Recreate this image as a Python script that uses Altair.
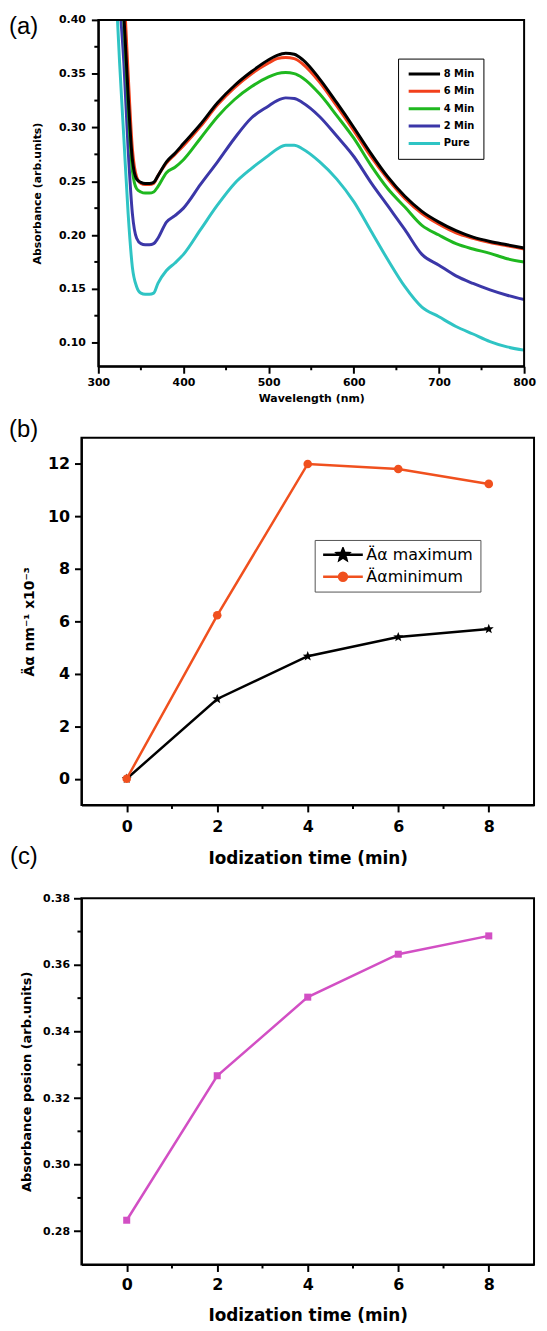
import math
import altair as alt
import pandas as pd

# ---------------- Panel (a) data ----------------
wavelength = [320, 325, 330, 335, 340, 345, 350, 355, 360, 365, 370, 380, 390, 400, 420, 440, 460, 480,
              500, 510, 520, 530, 540, 560, 580, 600, 620, 640, 660, 680, 700, 720, 740, 760, 780, 800]
abs_8min = [0.56, 0.47, 0.405, 0.33, 0.27, 0.252, 0.249, 0.248, 0.248, 0.249, 0.255, 0.268, 0.276, 0.285,
            0.303, 0.323, 0.339, 0.352, 0.363, 0.367, 0.369, 0.368, 0.363, 0.345, 0.323, 0.300, 0.276,
            0.254, 0.236, 0.222, 0.212, 0.204, 0.198, 0.194, 0.191, 0.188]
abs_6min = [0.60, 0.50, 0.43, 0.35, 0.28, 0.254, 0.248, 0.247, 0.247, 0.248, 0.255, 0.267, 0.275, 0.283,
            0.301, 0.321, 0.337, 0.350, 0.360, 0.364, 0.365, 0.364, 0.359, 0.342, 0.320, 0.297, 0.273,
            0.252, 0.234, 0.220, 0.210, 0.202, 0.197, 0.193, 0.190, 0.187]
abs_4min = [0.56, 0.47, 0.40, 0.32, 0.26, 0.243, 0.240, 0.239, 0.239, 0.240, 0.245, 0.258, 0.263, 0.270,
            0.290, 0.310, 0.326, 0.338, 0.347, 0.350, 0.351, 0.350, 0.346, 0.331, 0.311, 0.290, 0.265,
            0.243, 0.226, 0.209, 0.200, 0.192, 0.187, 0.183, 0.178, 0.175]
abs_2min = [0.50, 0.42, 0.36, 0.28, 0.22, 0.197, 0.192, 0.191, 0.191, 0.192, 0.197, 0.212, 0.218, 0.225,
            0.247, 0.268, 0.290, 0.309, 0.320, 0.325, 0.3275, 0.327, 0.323, 0.310, 0.292, 0.273, 0.249,
            0.227, 0.205, 0.182, 0.172, 0.162, 0.155, 0.149, 0.144, 0.140]
abs_pure = [0.44, 0.36, 0.29, 0.22, 0.17, 0.152, 0.146, 0.145, 0.145, 0.146, 0.155, 0.167, 0.174, 0.182,
            0.205, 0.228, 0.248, 0.262, 0.274, 0.280, 0.2835, 0.2835, 0.280, 0.268, 0.252, 0.231, 0.204,
            0.177, 0.152, 0.133, 0.124, 0.115, 0.108, 0.101, 0.096, 0.093]
a_names = ["8 Min", "6 Min", "4 Min", "2 Min", "Pure"]
a_colors = ["#000000", "#f2401c", "#1fb81f", "#3b37a8", "#2fc4c4"]
a_x_ticks = [300, 400, 500, 600, 700, 800]
a_x_minor = [350, 450, 550, 650, 750]
a_y_ticks = [0.10, 0.15, 0.20, 0.25, 0.30, 0.35, 0.40]
a_y_minor = [0.125, 0.175, 0.225, 0.275, 0.325, 0.375]

# ---------------- Panel (b) data ----------------
time_min = [0, 2, 4, 6, 8]
da_max = [0.0, 3.04, 4.67, 5.40, 5.71]
da_min = [0.0, 6.23, 12.0, 11.81, 11.24]
b_names = ["Äα maximum", "Äαminimum"]
b_colors = ["#000000", "#f0501e"]
bc_x_ticks = [0, 2, 4, 6, 8]
bc_x_minor = [1, 3, 5, 7]
b_y_ticks = [0, 2, 4, 6, 8, 10, 12]

# ---------------- Panel (c) data ----------------
abs_position = [0.2833, 0.3267, 0.3503, 0.3632, 0.3687]
c_y_ticks = [0.28, 0.30, 0.32, 0.34, 0.36, 0.38]
c_y_minor = [0.29, 0.31, 0.33, 0.35, 0.37]

FONT = "DejaVu Sans"

df_a = pd.concat([
    pd.DataFrame({"wl": wavelength, "absorb": vals, "series": name})
    for name, vals in reversed(list(zip(a_names, [abs_8min, abs_6min, abs_4min, abs_2min, abs_pure])))
], ignore_index=True)
df_b = pd.concat([
    pd.DataFrame({"t": time_min, "v": da_max, "series": b_names[0]}),
    pd.DataFrame({"t": time_min, "v": da_min, "series": b_names[1]}),
], ignore_index=True)
df_c = pd.DataFrame({"t": time_min, "v": abs_position})
one = pd.DataFrame({"k": [0]})


def star(outer, inner):
    pts = []
    for i in range(10):
        r = outer if i % 2 == 0 else inner
        ang = math.radians(-90 + 36 * i)
        pts.append(f"{r * math.cos(ang):.3f},{r * math.sin(ang):.3f}")
    return "M" + "L".join(pts) + "Z"


STAR = star(1.0, 0.42)
STAR_LINE = "M-1,0L1,0" + star(0.3, 0.13)
CIRCLE_LINE = "M-1,0L1,0M0.2,0A0.2,0.2 0 1,1 -0.2,0A0.2,0.2 0 1,1 0.2,0Z"


def minor_x(values, field, enc, h):
    return alt.Chart(pd.DataFrame({field: values})).mark_rule(strokeWidth=2, color="black").encode(
        x=enc, y=alt.value(h), y2=alt.value(h + 4))


def minor_y(values, field, enc, x0):
    return alt.Chart(pd.DataFrame({field: values})).mark_rule(strokeWidth=2, color="black").encode(
        y=enc, x=alt.value(x0 - 4), x2=alt.value(x0))


def panel_label(txt, x, y):
    return alt.Chart(one).mark_text(text=txt, align="left", baseline="top", font="Liberation Sans",
                                    fontSize=24, color="black").encode(x=alt.value(x), y=alt.value(y))


# ----- panel (a) -----
A_W, A_H = 446, 349
x_a = alt.X("wl:Q", scale=alt.Scale(domain=[300, 800], range=[17, 446], nice=False),
            axis=alt.Axis(values=a_x_ticks, title="Wavelength (nm)", tickSize=7,
                          labelFontSize=11, titleFontSize=11, labelPadding=3, titlePadding=5))
y_a = alt.Y("absorb:Q", scale=alt.Scale(domain=[0.078, 0.40], nice=False, zero=False),
            axis=alt.Axis(values=a_y_ticks, title="Absorbance (arb.units)", format=".2f", offset=-17,
                          tickSize=7, labelFontSize=11, titleFontSize=11, labelPadding=6, titlePadding=16))

lines_a = alt.Chart(df_a).mark_line(strokeWidth=3, clip=True, interpolate="monotone").encode(
    x=x_a, y=y_a,
    color=alt.Color("series:N", scale=alt.Scale(domain=a_names, range=a_colors),
                    legend=alt.Legend(title=None, orient="none", legendX=319, legendY=39,
                                      symbolType="stroke", symbolSize=1000, symbolStrokeWidth=3,
                                      clipHeight=13, rowPadding=4.5, labelFont=FONT, labelFontWeight="bold",
                                      labelFontSize=10, labelColor="black", strokeColor="black",
                                      padding=9, labelOffset=2)),
)
frame_a = alt.Chart(one).mark_rect(fill="transparent", stroke="black", strokeWidth=2).encode(
    x=alt.value(17), x2=alt.value(446), y=alt.value(0), y2=alt.value(A_H))
panel_a = alt.layer(
    lines_a, frame_a,
    minor_x(a_x_minor, "wl", x_a, A_H), minor_y(a_y_minor, "absorb", y_a, 17),
    panel_label("(a)", -73, -5),
).properties(width=A_W, height=A_H, view=alt.ViewBackground(stroke="transparent"))

# ----- panel (b) -----
B_W, B_H = 456, 370
x_b = alt.X("t:Q", scale=alt.Scale(domain=[-1, 9], nice=False),
            axis=alt.Axis(values=bc_x_ticks, title="Iodization time (min)", tickSize=7,
                          labelFontSize=16, titleFontSize=17, labelPadding=7, titlePadding=16))
y_b = alt.Y("v:Q", scale=alt.Scale(domain=[-1, 13], nice=False),
            axis=alt.Axis(values=b_y_ticks, title="Äα  nm⁻¹ x10⁻³", tickSize=7,
                          labelFontSize=16, titleFontSize=14, labelPadding=5, titlePadding=11))

line_max = alt.Chart(df_b).transform_filter(alt.datum.series == b_names[0]).mark_line(
    strokeWidth=2.5, color=b_colors[0]).encode(x=x_b, y=y_b)
line_min = alt.Chart(df_b).transform_filter(alt.datum.series == b_names[1]).mark_line(
    strokeWidth=2.5, color=b_colors[1]).encode(x=x_b, y=y_b)
stars_b = alt.Chart(df_b).transform_filter(alt.datum.series == b_names[0]).mark_point(
    shape=STAR, filled=True, size=110, color=b_colors[0], opacity=1).encode(x=x_b, y=y_b)
dots_b = alt.Chart(df_b).transform_filter(alt.datum.series == b_names[1]).mark_point(
    shape="circle", filled=True, size=75, color=b_colors[1], opacity=1).encode(x=x_b, y=y_b)
leg_b = alt.Legend(title=None, orient="none", legendX=235, legendY=103, symbolSize=1600,
                   symbolStrokeWidth=2.5, clipHeight=16, rowPadding=6, labelFont=FONT,
                   labelFontSize=16, labelFontWeight="normal", labelColor="black",
                   strokeColor="#555555", padding=7, labelOffset=2, symbolOpacity=1)
legend_b = alt.Chart(df_b).mark_point(filled=True, opacity=0).encode(
    x=x_b, y=y_b,
    fill=alt.Fill("series:N", scale=alt.Scale(domain=b_names, range=b_colors), legend=leg_b),
    stroke=alt.Stroke("series:N", scale=alt.Scale(domain=b_names, range=b_colors), legend=leg_b),
    shape=alt.Shape("series:N", scale=alt.Scale(domain=b_names, range=[STAR_LINE, CIRCLE_LINE]), legend=leg_b),
)
spacer_b = alt.Chart(one).mark_rule(strokeOpacity=0).encode(
    x=alt.value(0), x2=alt.value(1), y=alt.value(443))
panel_b = alt.layer(
    line_max, line_min, stars_b, dots_b, legend_b, minor_x(bc_x_minor, "t", x_b, B_H),
    panel_label("(b)", -73, -20), panel_label("(c)", -72, 410), spacer_b,
).properties(width=B_W, height=B_H)

# ----- panel (c) -----
C_W, C_H = 456, 369
x_c = alt.X("t:Q", scale=alt.Scale(domain=[-1, 9], nice=False),
            axis=alt.Axis(values=bc_x_ticks, title="Iodization time (min)", tickSize=7,
                          labelFontSize=16, titleFontSize=17, labelPadding=5, titlePadding=15))
y_c = alt.Y("v:Q", scale=alt.Scale(domain=[0.27, 0.38], nice=False, zero=False),
            axis=alt.Axis(values=c_y_ticks, title="Absorbance posion (arb.units)", format=".2f",
                          tickSize=8, labelFontSize=11, titleFontSize=13, labelPadding=4, titlePadding=9))
line_c = alt.Chart(df_c).mark_line(strokeWidth=2.5, color="#d24fc4").encode(x=x_c, y=y_c)
pts_c = alt.Chart(df_c).mark_point(shape="square", filled=True, size=50, color="#d24fc4", opacity=1).encode(
    x=x_c, y=y_c)
panel_c = alt.layer(
    line_c, pts_c, minor_x(bc_x_minor, "t", x_c, C_H), minor_y(c_y_minor, "v", y_c, 0),
).properties(width=C_W, height=C_H)

chart = alt.vconcat(panel_a, panel_b, panel_c, spacing=13).resolve_scale(
    color="independent", fill="independent", stroke="independent", shape="independent"
).resolve_legend(
    color="independent", fill="independent", stroke="independent", shape="independent"
).properties(
    padding={"left": 0, "top": 0, "right": 2, "bottom": 0}
).configure_view(stroke="black", strokeWidth=2).configure_axis(
    grid=False, domainColor="black", domainWidth=2, tickColor="black", tickWidth=2,
    labelColor="black", titleColor="black", labelFont=FONT, labelFontWeight="bold",
    titleFont=FONT, titleFontWeight="bold", labelFlush=False, labelOverlap=False
)

chart.save("out.html", embed_options={"renderer": "svg", "actions": False})
